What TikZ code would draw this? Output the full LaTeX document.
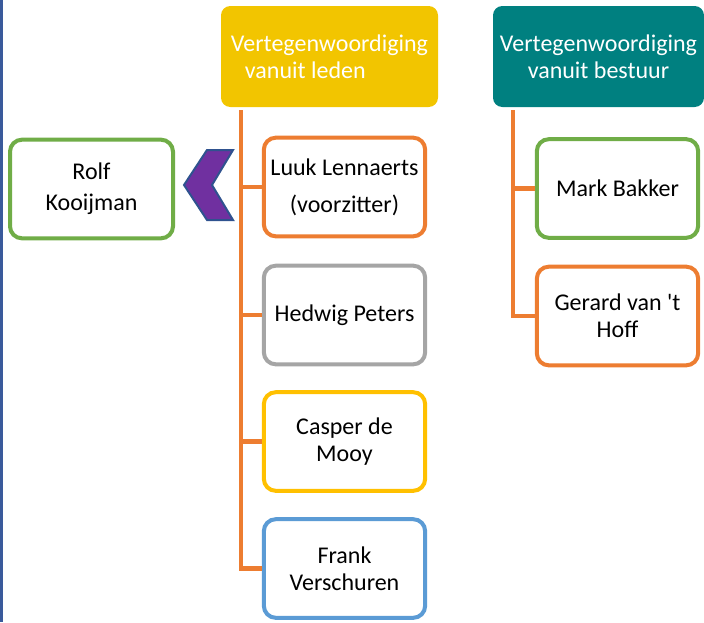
\documentclass[tikz,border=0pt]{standalone}
\usepackage{fontspec}
\setmainfont{Carlito}
\usetikzlibrary{shapes,calc}
\definecolor{kopgeel}{RGB}{242,197,0}
\definecolor{kopteal}{RGB}{0,128,128}
\definecolor{oranje}{RGB}{237,125,49}
\definecolor{grijs}{RGB}{165,165,165}
\definecolor{goud}{RGB}{255,192,0}
\definecolor{lichtblauw}{RGB}{91,155,213}
\definecolor{groen}{RGB}{112,173,71}
\definecolor{paars}{RGB}{112,48,160}
\definecolor{donkerblauw}{RGB}{47,82,143}
\definecolor{randblauw}{RGB}{58,90,155}

\begin{document}
\begin{tikzpicture}[x=0.75pt, y=-0.75pt,
  font=\fontsize{18}{20.25}\selectfont,
  kop/.style={rounded corners=7pt, text=white, minimum width=162.75pt, minimum height=75.75pt},
  lid/.style={draw, line width=3pt, rounded corners=9pt, fill=white, align=center, minimum width=121pt, minimum height=74pt, inner sep=2pt},
  tak/.style={draw=oranje, line width=3.2pt}]

\useasboundingbox (0,0) rectangle (704,622);
\draw[line width=2.25pt, randblauw] (1.5,0) -- (1.5,622);

\node[kop, fill=kopgeel, align=left] at (329.5, 56.5) (leden) {Vertegenwoordiging\\\hspace*{10.5pt}vanuit leden};
\node[kop, fill=kopteal, align=center, minimum width=158.25pt] at (598.5, 56.5) (bestuur) {Vertegenwoordiging\\vanuit bestuur};

\node[lid, draw=oranje] at (344.5, 187) (luuk) {Luuk Lennaerts\\[7.5pt](voorzitter)};
\node[lid, draw=grijs] at (344.5, 315) (hedwig) {Hedwig Peters};
\node[lid, draw=goud] at (344.5, 441.5) (casper) {Casper de\\Mooy};
\node[lid, draw=lichtblauw] at (344.5, 568.5) (frank) {Frank\\Verschuren};

\node[lid, draw=groen] at (617.5, 188.5) (mark) {Mark Bakker};
\node[lid, draw=oranje] at (617.5, 316) (gerard) {Gerard van \textquotesingle t\\Hoff};

\node[lid, draw=groen, minimum width=122.25pt] at (91.5, 189) (rolf) {Rolf\\[3pt]Kooijman};

% chevron tussen Rolf en de leden
\draw[fill=paars, draw=donkerblauw, line width=1.5pt] (233,150) -- (207,150) -- (184,185) -- (207,220) -- (233,220) -- (212,185) -- cycle;

\coordinate (ledenvoet) at (241, 110);
\coordinate (bestuurvoet) at (513, 110);
    \draw[tak] (ledenvoet) |- (frank.west);
    \draw[tak] (ledenvoet) |- (luuk.west);
    \draw[tak] (ledenvoet) |- (hedwig.west);
    \draw[tak] (ledenvoet) |- (casper.west);
    \draw[tak] (bestuurvoet) |- (gerard.west);
    \draw[tak] (bestuurvoet) |- (mark.west);
\end{tikzpicture}
\end{document}
